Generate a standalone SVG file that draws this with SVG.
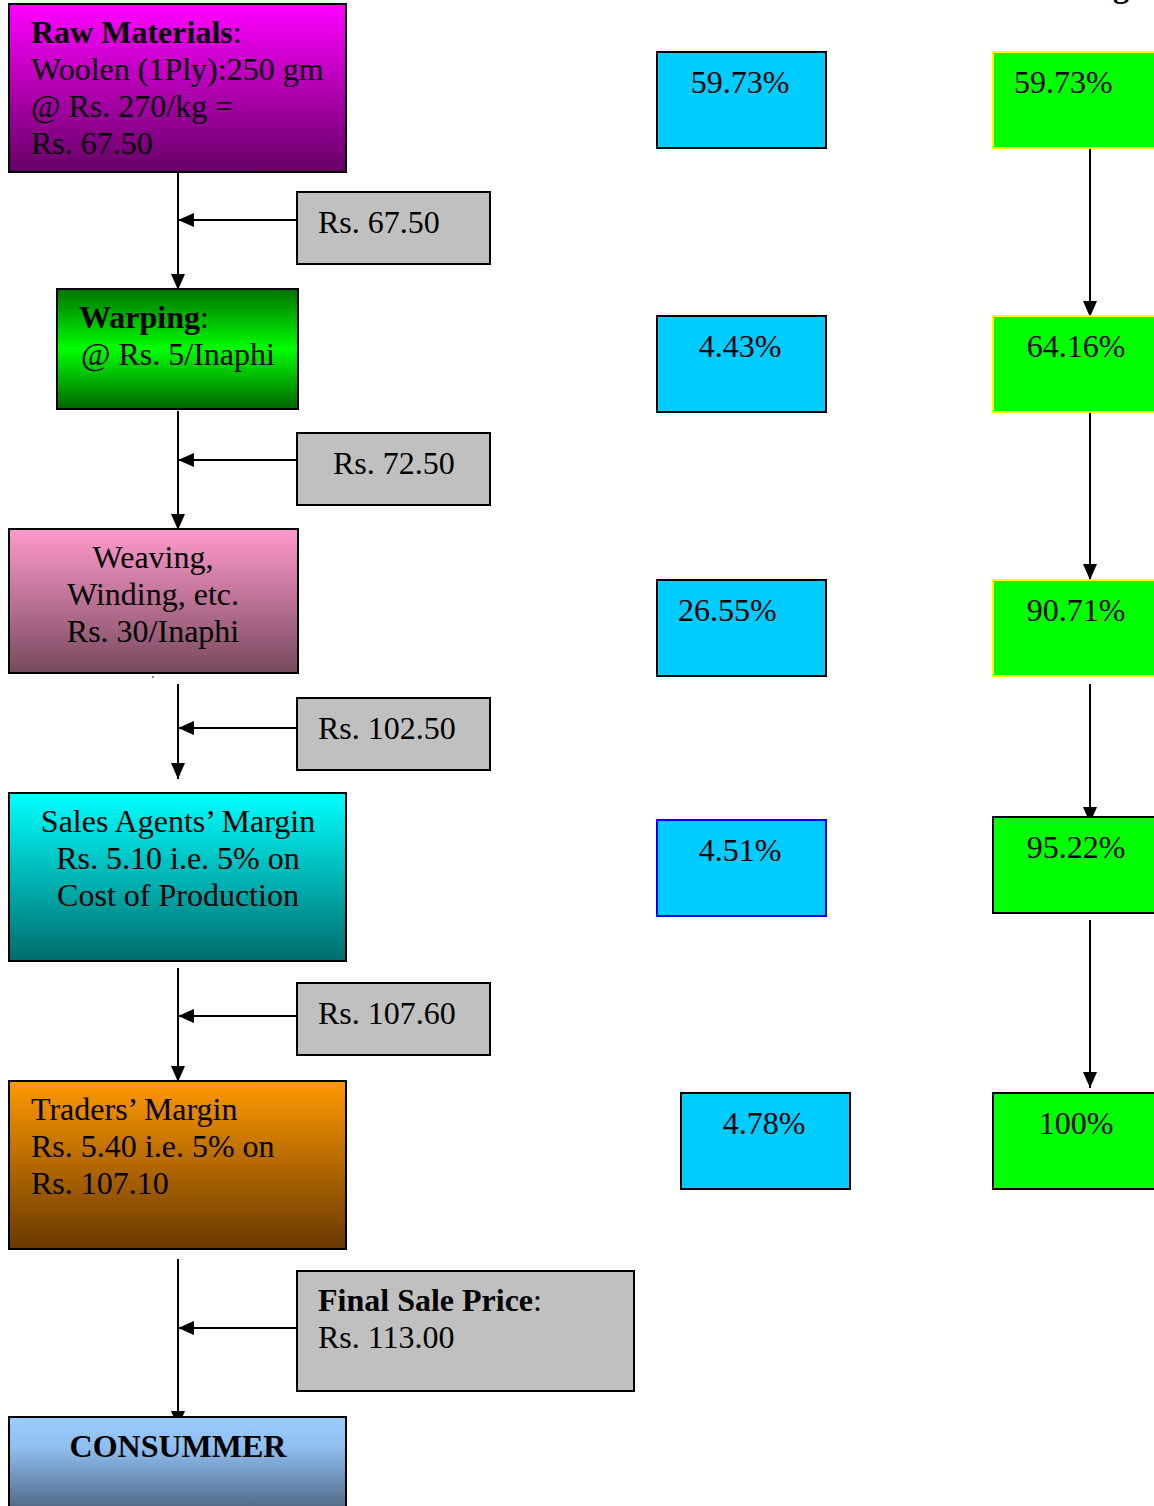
<svg xmlns="http://www.w3.org/2000/svg" width="1154" height="1506" viewBox="0 0 1154 1506">
<style>
text{font-family:"Liberation Serif","Times New Roman",serif;font-size:32px;fill:#000}
.b{font-weight:bold}
.c{text-anchor:middle}
.box{stroke:#000;stroke-width:2}
.gray{fill:#c0c0c0;stroke:#000;stroke-width:2}
.blue{fill:#00ccff;stroke:#000;stroke-width:2}
.green{fill:#00ff00;stroke:#000;stroke-width:2}
.conn line{stroke:#000;stroke-width:2}
</style>
<defs>
<marker id="ah" viewBox="0 0 16 14" refX="16" refY="7" markerWidth="16" markerHeight="14" markerUnits="userSpaceOnUse" orient="auto">
<path d="M0,0 L16,7 L0,14 Z" fill="#000"/>
</marker>
<linearGradient id="gRaw" x1="0" y1="0" x2="0" y2="1"><stop offset="0" stop-color="#ff00ff"/><stop offset="1" stop-color="#660066"/></linearGradient>
<linearGradient id="gWarp" x1="0" y1="0" x2="0" y2="1"><stop offset="0" stop-color="#007200"/><stop offset="0.5" stop-color="#00ff00"/><stop offset="1" stop-color="#006600"/></linearGradient>
<linearGradient id="gWeave" x1="0" y1="0" x2="0" y2="1"><stop offset="0" stop-color="#ff99cc"/><stop offset="1" stop-color="#774a5e"/></linearGradient>
<linearGradient id="gSales" x1="0" y1="0" x2="0" y2="1"><stop offset="0" stop-color="#00ffff"/><stop offset="1" stop-color="#006c6c"/></linearGradient>
<linearGradient id="gTrade" x1="0" y1="0" x2="0" y2="1"><stop offset="0" stop-color="#ff9900"/><stop offset="1" stop-color="#683800"/></linearGradient>
<linearGradient id="gCons" x1="0" y1="0" x2="0" y2="1"><stop offset="0" stop-color="#99ccff"/><stop offset="0.3" stop-color="#8fbff0"/><stop offset="1" stop-color="#485d78"/></linearGradient>
</defs>

<text class="b" x="1113" y="-3">g</text>

<g id="connectors" class="conn">
<line x1="178" y1="172" x2="178" y2="290" marker-end="url(#ah)"/>
<line x1="297" y1="220" x2="178" y2="220" marker-end="url(#ah)"/>
<line x1="178" y1="411" x2="178" y2="530" marker-end="url(#ah)"/>
<line x1="297" y1="460" x2="178" y2="460" marker-end="url(#ah)"/>
<line x1="178" y1="684" x2="178" y2="779" marker-end="url(#ah)"/>
<line x1="297" y1="728" x2="178" y2="728" marker-end="url(#ah)"/>
<line x1="178" y1="968" x2="178" y2="1082" marker-end="url(#ah)"/>
<line x1="297" y1="1016" x2="178" y2="1016" marker-end="url(#ah)"/>
<line x1="178" y1="1259" x2="178" y2="1427" marker-end="url(#ah)"/>
<line x1="297" y1="1328" x2="178" y2="1328" marker-end="url(#ah)"/>
<line x1="1090" y1="149" x2="1090" y2="317" marker-end="url(#ah)"/>
<line x1="1090" y1="413" x2="1090" y2="580" marker-end="url(#ah)"/>
<line x1="1090" y1="684" x2="1090" y2="823" marker-end="url(#ah)"/>
<line x1="1090" y1="920" x2="1090" y2="1088" marker-end="url(#ah)"/>
</g>

<g id="raw">
<rect class="box" x="9" y="4" width="337" height="168" fill="url(#gRaw)"/>
<text x="31" y="43"><tspan class="b">Raw Materials</tspan>:</text>
<text x="31" y="80">Woolen (1Ply):250 gm</text>
<text x="31" y="117">@ Rs. 270/kg =</text>
<text x="31" y="154">Rs. 67.50</text>
</g>

<g id="price1"><rect class="gray" x="297" y="192" width="193" height="72"/><text x="318" y="233">Rs. 67.50</text></g>

<g id="warping">
<rect class="box" x="57" y="289" width="241" height="120" fill="url(#gWarp)"/>
<text x="79" y="328"><tspan class="b">Warping</tspan>:</text>
<text x="81" y="365">@ Rs. 5/Inaphi</text>
</g>

<g id="price2"><rect class="gray" x="297" y="433" width="193" height="72"/><text x="333" y="474">Rs. 72.50</text></g>

<g id="weaving">
<rect class="box" x="9" y="529" width="289" height="144" fill="url(#gWeave)"/>
<text class="c" x="153" y="568">Weaving,</text>
<text class="c" x="153" y="605">Winding, etc.</text>
<text class="c" x="153" y="642">Rs. 30/Inaphi</text>
<circle cx="153" cy="677" r="0.8" fill="#000"/>
</g>

<g id="price3"><rect class="gray" x="297" y="698" width="193" height="72"/><text x="318" y="739">Rs. 102.50</text></g>

<g id="sales">
<rect class="box" x="9" y="793" width="337" height="168" fill="url(#gSales)"/>
<text class="c" x="178" y="832">Sales Agents’ Margin</text>
<text class="c" x="178" y="869">Rs. 5.10 i.e. 5% on</text>
<text class="c" x="178" y="906">Cost of Production</text>
</g>

<g id="price4"><rect class="gray" x="297" y="983" width="193" height="72"/><text x="318" y="1024">Rs. 107.60</text></g>

<g id="traders">
<rect class="box" x="9" y="1081" width="337" height="168" fill="url(#gTrade)"/>
<text x="31" y="1120">Traders’ Margin</text>
<text x="31" y="1157">Rs. 5.40 i.e. 5% on</text>
<text x="31" y="1194">Rs. 107.10</text>
</g>

<g id="final">
<rect class="gray" x="297" y="1271" width="337" height="120"/>
<text x="318" y="1311"><tspan class="b">Final Sale Price</tspan>:</text>
<text x="318" y="1348">Rs. 113.00</text>
</g>

<g id="consumer">
<rect class="box" x="9" y="1417" width="337" height="100" fill="url(#gCons)"/>
<text class="b c" x="178" y="1457">CONSUMMER</text>
</g>

<g id="pct1"><rect class="blue" x="657" y="52" width="169" height="96"/><text class="c" x="740" y="93">59.73%</text></g>
<g id="pct2"><rect class="blue" x="657" y="316" width="169" height="96"/><text class="c" x="740" y="357">4.43%</text></g>
<g id="pct3"><rect class="blue" x="657" y="580" width="169" height="96"/><text x="678" y="621">26.55%</text></g>
<g id="pct4"><rect class="blue" x="657" y="820" width="169" height="96" style="stroke:#0000ff"/><text class="c" x="740" y="861">4.51%</text></g>
<g id="pct5"><rect class="blue" x="681" y="1093" width="169" height="96"/><text class="c" x="764" y="1134">4.78%</text></g>

<g id="cum1"><rect class="green" x="993" y="52" width="175" height="96" style="stroke:#ffff00"/><text x="1014" y="93">59.73%</text></g>
<g id="cum2"><rect class="green" x="993" y="316" width="175" height="96" style="stroke:#ffff00"/><text class="c" x="1076" y="357">64.16%</text></g>
<g id="cum3"><rect class="green" x="993" y="580" width="175" height="96" style="stroke:#ffff00"/><text class="c" x="1076" y="621">90.71%</text></g>
<g id="cum4"><rect class="green" x="993" y="817" width="175" height="96"/><text class="c" x="1076" y="858">95.22%</text></g>
<g id="cum5"><rect class="green" x="993" y="1093" width="175" height="96"/><text class="c" x="1076" y="1134">100%</text></g>
</svg>
